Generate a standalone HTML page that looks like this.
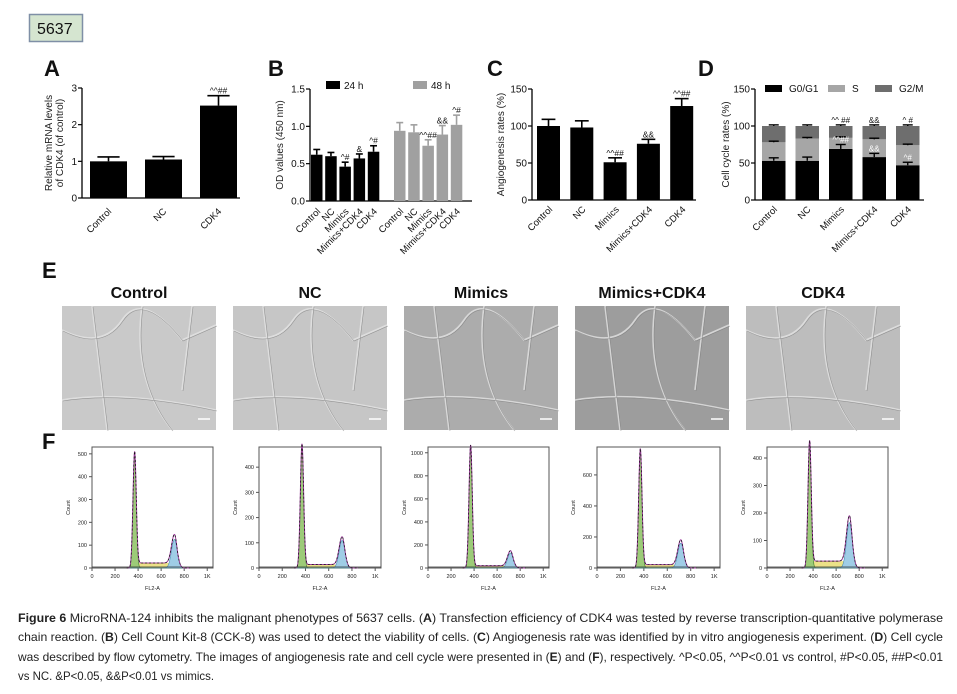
<!DOCTYPE html>
<html><head><meta charset="utf-8"><style>
html,body{margin:0;padding:0;background:#fff;}
svg{display:block;font-family:"Liberation Sans",sans-serif;}
</style></head><body>
<svg id="fig" width="957" height="694" viewBox="0 0 957 694" xmlns="http://www.w3.org/2000/svg">
<rect x="0" y="0" width="957" height="694" fill="#fff"/>
<g>
<rect x="29.5" y="14.5" width="53" height="27" fill="#d5e5d0" stroke="#7f8fa6" stroke-width="1.5"/>
<text x="37" y="34" font-size="16" fill="#111">5637</text>
</g>
<g id="charts"></g>
<g id="micro"></g>
<g id="flow"></g>
<g font-size="12" fill="#222" font-family="'Liberation Sans Narrow','Liberation Sans',sans-serif">
<text x="18" y="622" textLength="925" lengthAdjust="spacingAndGlyphs"><tspan font-weight="bold">Figure 6</tspan> MicroRNA-124 inhibits the malignant phenotypes of 5637 cells. (<tspan font-weight="bold">A</tspan>) Transfection efficiency of CDK4 was tested by reverse transcription-quantitative polymerase</text>
<text x="18" y="641" textLength="925" lengthAdjust="spacingAndGlyphs">chain reaction. (<tspan font-weight="bold">B</tspan>) Cell Count Kit-8 (CCK-8) was used to detect the viability of cells. (<tspan font-weight="bold">C</tspan>) Angiogenesis rate was identified by in vitro angiogenesis experiment. (<tspan font-weight="bold">D</tspan>) Cell cycle</text>
<text x="18" y="661" textLength="925" lengthAdjust="spacingAndGlyphs">was described by flow cytometry. The images of angiogenesis rate and cell cycle were presented in (<tspan font-weight="bold">E</tspan>) and (<tspan font-weight="bold">F</tspan>), respectively. ^P&lt;0.05, ^^P&lt;0.01 vs control, #P&lt;0.05, ##P&lt;0.01</text>
<text x="18" y="680" textLength="196" lengthAdjust="spacingAndGlyphs">vs NC. &amp;P&lt;0.05, &amp;&amp;P&lt;0.01 vs mimics.</text>
</g>
</svg>
<script>
const NS='http://www.w3.org/2000/svg';
// ---- Panel A data
const aCats=['Control','NC','CDK4'];
const aVals=[1.0,1.05,2.52];
const aErr=[0.12,0.08,0.27];
const aSig=['','','^^##'];
const aTicks=[0,1,2,3];
// ---- Panel B data
const bCats=['Control','NC','Mimics','Mimics+CDK4','CDK4'];
const b24=[0.62,0.60,0.46,0.57,0.66];
const b24Err=[0.07,0.05,0.06,0.06,0.08];
const b24Sig=['','','^#','&','^#'];
const b48=[0.94,0.92,0.74,0.89,1.02];
const b48Err=[0.11,0.10,0.08,0.12,0.13];
const b48Sig=['','','^^##','&&','^#'];
const bTicks=[0.0,0.5,1.0,1.5];
const bTickLabels=['0.0','0.5','1.0','1.5'];
// ---- Panel C data
const cCats=['Control','NC','Mimics','Mimics+CDK4','CDK4'];
const cVals=[100,98,51,76,127];
const cErr=[9,9,6,6,10];
const cSig=['','','^^##','&&','^^##'];
const cTicks=[0,50,100,150];
// ---- Panel D data
const dCats=['Control','NC','Mimics','Mimics+CDK4','CDK4'];
const dG1=[53,53,69,58,47];
const dS=[25,30,15,24,27];
const dG2=[22,17,16,18,26];
const dG1Err=[4,5,6,5,4];
const dSig=['','','^^##','&&','^#'];
const dTopSig=['','','^^ ##','&&','^ #'];
const dTicks=[0,50,100,150];
// ---- Panel F data
const fYMax=[530,480,1050,780,440];
const fYTicks=[[0,100,200,300,400,500],[0,100,200,300,400],[0,200,400,600,800,1000],[0,200,400,600],[0,100,200,300,400]];
const fG1Peak=[490,480,1050,750,440];
const fG2Peak=[125,110,130,160,165];
const fSLevel=[22,14,20,22,25];
const fXTicks=[0,200,400,600,800,1000];
const fXLabels=['0','200','400','600','800','1K'];

function el(tag,attrs,parent,txt){const e=document.createElementNS(NS,tag);for(const k in attrs)e.setAttribute(k,attrs[k]);if(txt!==undefined)e.textContent=txt;parent.appendChild(e);return e;}
const charts=document.getElementById('charts');

function panelLetter(t,x,y){const e=el('text',{x:x,y:y,'font-size':22,'font-weight':'bold',fill:'#111'},charts,t);

}
panelLetter('A',44,76);panelLetter('B',268,76);panelLetter('C',487,76);panelLetter('D',698,76);
panelLetter('E',42,278);panelLetter('F',42,449);

function axisY(g,x,y0,y1,vmax,ticks,labels,title,tx){
  const sc=v=>y0-(v/vmax)*(y0-y1);
  el('line',{x1:x,y1:y0,x2:x,y2:y1,stroke:'#000','stroke-width':1.3},g);
  ticks.forEach((t,i)=>{el('line',{x1:x-4,y1:sc(t),x2:x,y2:sc(t),stroke:'#000','stroke-width':1.2},g);
    el('text',{x:x-5,y:sc(t)+3.5,'font-size':10,'text-anchor':'end',fill:'#111'},g,labels?labels[i]:String(t));});
  const ty=(y0+y1)/2;
  title.forEach((l,i)=>{el('text',{x:tx+i*11,y:ty,'font-size':10,'text-anchor':'middle',fill:'#222',transform:`rotate(-90 ${tx+i*11} ${ty})`},g,l);});
  return sc;
}
function xLabel(g,cx,y,txt){el('text',{x:cx+4,y:y,'font-size':9.5,'text-anchor':'end',fill:'#111',transform:`rotate(-45 ${cx+4} ${y})`},g,txt);}
function bar(g,name,x,w,sc,v,err,fill,sig){
  const b=el('rect',{x:x,y:sc(v),width:w,height:sc(0)-sc(v),fill:fill},g);
  
  
  const cx=x+w/2,ye=sc(v+err);
  el('line',{x1:cx,y1:sc(v),x2:cx,y2:ye,stroke:fill,'stroke-width':1.6},g);
  el('line',{x1:cx-w*0.3,y1:ye,x2:cx+w*0.3,y2:ye,stroke:fill,'stroke-width':1.6},g);
  if(sig)el('text',{x:cx,y:ye-2,'font-size':8.5,'text-anchor':'middle',fill:'#111'},g,sig);
}

// Panel A
{const g=el('g',{},charts);
 const sc=axisY(g,82,198,88,3,aTicks,null,['Relative mRNA levels','of CDK4 (of control)'],52);
 el('line',{x1:82,y1:198,x2:240,y2:198,stroke:'#000','stroke-width':1.3},g);
 aCats.forEach((c,i)=>{const x=90+i*55;bar(g,'bar-a-'+c.toLowerCase(),x,37,sc,aVals[i],aErr[i],'#000',aSig[i]);xLabel(g,x+18,212,c);});}
// Panel B
{const g=el('g',{},charts);
 const sc=axisY(g,310,201,89,1.5,bTicks,bTickLabels,['OD values (450 nm)'],283);
 el('line',{x1:310,y1:201,x2:472,y2:201,stroke:'#000','stroke-width':1.3},g);
 bCats.forEach((c,i)=>{const x=311+i*14.2;bar(g,'bar-b-24h-'+i,x,11.5,sc,b24[i],b24Err[i],'#000',b24Sig[i]);xLabel(g,x+6,212,c);});
 bCats.forEach((c,i)=>{const x=394+i*14.2;bar(g,'bar-b-48h-'+i,x,11.5,sc,b48[i],b48Err[i],'#a0a0a0',b48Sig[i]);xLabel(g,x+6,212,c);});
 const l1=el('g',{},g);
 el('rect',{x:326,y:81,width:14,height:8,fill:'#000'},l1);el('text',{x:344,y:89,'font-size':10,fill:'#111'},l1,'24 h');
 const l2=el('g',{},g);
 el('rect',{x:413,y:81,width:14,height:8,fill:'#a0a0a0'},l2);el('text',{x:431,y:89,'font-size':10,fill:'#111'},l2,'48 h');}
// Panel C
{const g=el('g',{},charts);
 const sc=axisY(g,532,200,89,150,cTicks,null,['Angiogenesis rates (%)'],504);
 el('line',{x1:532,y1:200,x2:696,y2:200,stroke:'#000','stroke-width':1.3},g);
 cCats.forEach((c,i)=>{const x=537+i*33.3;bar(g,'bar-c-'+i,x,23,sc,cVals[i],cErr[i],'#000',cSig[i]);xLabel(g,x+12,210,c);});}
// Panel D
{const g=el('g',{},charts);
 const sc=axisY(g,755,200,89,150,dTicks,null,['Cell cycle rates (%)'],729);
 el('line',{x1:755,y1:200,x2:924,y2:200,stroke:'#000','stroke-width':1.3},g);
 dCats.forEach((c,i)=>{const x=762+i*33.5,w=23.5;
   const s1=el('rect',{x:x,y:sc(dG1[i]),width:w,height:sc(0)-sc(dG1[i]),fill:'#000'},g);
   
   const s2=el('rect',{x:x,y:sc(dG1[i]+dS[i]),width:w,height:sc(dG1[i])-sc(dG1[i]+dS[i]),fill:'#a6a6a6'},g);
   
   const t=dG1[i]+dS[i]+dG2[i];
   const s3=el('rect',{x:x,y:sc(t),width:w,height:sc(dG1[i]+dS[i])-sc(t),fill:'#6e6e6e'},g);
   
   const cx=x+w/2;
   [[dG1[i],dG1Err[i]],[dG1[i]+dS[i],1.5],[t,1.5]].forEach(([v,e])=>{
     el('line',{x1:cx,y1:sc(v),x2:cx,y2:sc(v+e),stroke:'#000','stroke-width':1.4},g);
     el('line',{x1:cx-5,y1:sc(v+e),x2:cx+5,y2:sc(v+e),stroke:'#000','stroke-width':1.4},g);});
   if(dSig[i])el('text',{x:cx,y:sc(dG1[i]+dG1Err[i])-2,'font-size':8,'text-anchor':'middle',fill:'#fff'},g,dSig[i]);
   if(dTopSig[i])el('text',{x:cx,y:sc(t+1.5)-2,'font-size':8,'text-anchor':'middle',fill:'#111'},g,dTopSig[i]);
   xLabel(g,cx,210,c);});
 [['G0/G1','#000',765],['S','#a6a6a6',828],['G2/M','#6e6e6e',875]].forEach(([n,col,x])=>{
   const lg=el('g',{},g);
   el('rect',{x:x,y:85,width:17,height:7,fill:col},lg);el('text',{x:x+24,y:92,'font-size':10,fill:'#111'},lg,n);});}

// Panel E micrographs
const micro=document.getElementById('micro');
const eNames=['Control','NC','Mimics','Mimics+CDK4','CDK4'];
const eFill=['#c9c9c9','#c6c6c6','#acacac','#9d9d9d','#bdbdbd'];
eNames.forEach((n,i)=>{const x=62+i*171;
  const t=el('text',{x:x+77,y:298,'font-size':16,'font-weight':'bold','text-anchor':'middle',fill:'#111'},micro,n);
  
  const r=el('rect',{x:x,y:306,width:154,height:124,fill:eFill[i]},micro);
  
  const pth=`M${x} ${330} Q${x+40} ${350} ${x+60} ${320} T${x+120} ${340} L${x+154} ${325} M${x+30} ${306} L${x+45} ${430} M${x+80} ${306} Q${x+70} ${380} ${x+110} ${430} M${x} ${400} Q${x+60} ${390} ${x+154} ${410} M${x+130} ${306} L${x+120} ${390}`;
  el('path',{d:pth,fill:'none',stroke:'#e4e4e4','stroke-width':1.6,opacity:0.8},micro);
  el('path',{d:pth,fill:'none',stroke:'#7a7a7a','stroke-width':0.6,opacity:0.7,transform:'translate(1,1)'},micro);
  el('line',{x1:x+136,y1:419,x2:x+148,y2:419,stroke:'#fff','stroke-width':1.5},micro);
});

// Panel F histograms
const flow=document.getElementById('flow');
const fBox=[[92,213],[259,381],[428,549],[597,720],[767,888]];
fBox.forEach((bx,i)=>{
  const g=el('g',{},flow);
  const x0=bx[0],x1=bx[1],yt=447,yb=568;
  const sx=v=>x0+(v/1050)*(x1-x0), sy=v=>yb-(v/fYMax[i])*(yb-yt);
  el('rect',{x:x0,y:yt,width:x1-x0,height:yb-yt,fill:'none',stroke:'#555','stroke-width':1},g);
  fYTicks[i].forEach(t=>{el('line',{x1:x0-3,y1:sy(t),x2:x0,y2:sy(t),stroke:'#555'},g);
    el('text',{x:x0-5,y:sy(t)+2,'font-size':5.5,'text-anchor':'end',fill:'#222'},g,String(t));});
  fXTicks.forEach((t,k)=>{el('line',{x1:sx(t),y1:yb,x2:sx(t),y2:yb+3,stroke:'#555'},g);
    el('text',{x:sx(t),y:yb+10,'font-size':5.5,'text-anchor':'middle',fill:'#222'},g,fXLabels[k]);});
  el('text',{x:(x0+x1)/2,y:yb+22,'font-size':5.5,'text-anchor':'middle',fill:'#222'},g,'FL2-A');
  el('text',{x:x0-22,y:(yt+yb)/2,'font-size':5.5,'text-anchor':'middle',fill:'#222',transform:`rotate(-90 ${x0-22} ${(yt+yb)/2})`},g,'Count');
  const gau=(x,m,s)=>Math.exp(-((x-m)*(x-m))/(2*s*s));
  let g1='',g2='',sp='',tot='';
  for(let v=300;v<=850;v+=3){
    const a=fG1Peak[i]*gau(v,370,14), b=fG2Peak[i]*gau(v,715,25);
    const s=(v>360&&v<720)?fSLevel[i]:fSLevel[i]*Math.max(0,1-Math.abs(v<=360?360-v:v-720)/25);
    g1+=`${sx(v)},${sy(a)} `;g2+=`${sx(v)},${sy(b)} `;sp+=`${sx(v)},${sy(s)} `;tot+=`${sx(v)},${sy(a+b+s)} `;}
  el('polygon',{points:`${sx(300)},${yb} ${sp}${sx(850)},${yb}`,fill:'#e9df7a',opacity:0.9},g);
  el('polygon',{points:`${sx(300)},${yb} ${g1}${sx(850)},${yb}`,fill:'#9ccb78',stroke:'#3f7a2c','stroke-width':0.6},g);
  el('polygon',{points:`${sx(300)},${yb} ${g2}${sx(850)},${yb}`,fill:'#9fcde6',stroke:'#4b8fb5','stroke-width':0.6},g);
  el('polyline',{points:tot,fill:'none',stroke:'#a040a0','stroke-width':1},g);
  el('polyline',{points:tot,fill:'none',stroke:'#111','stroke-width':0.7,'stroke-dasharray':'2 2'},g);
  el('line',{x1:x0,y1:yb-1,x2:x1,y2:yb-1,stroke:'#333','stroke-width':0.8},g);
});
</script>
</body></html>
